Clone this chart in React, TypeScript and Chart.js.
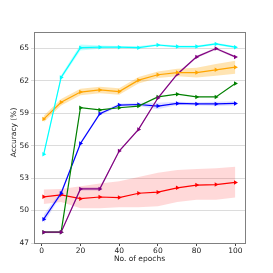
import React, { useEffect, useRef } from "react";
import { Chart, registerables } from "chart.js";

Chart.register(...registerables);

const epochs = [1, 10, 20, 30, 40, 50, 60, 70, 80, 90, 100];
const yTicks = [47, 50, 53, 56, 59, 62, 65];
const xTicks = [0, 20, 40, 60, 80, 100];
const xTitle = "No. of epochs";
const yTitle = "Accuracy (%)";

const cyanVals = [55.2, 62.3, 65.05, 65.1, 65.1, 65.05, 65.3, 65.15, 65.15, 65.4, 65.1];
const cyanUpper = [55.35, 62.5, 65.35, 65.25, 65.2, 65.2, 65.4, 65.25, 65.25, 65.5, 65.2];
const cyanLower = [55.05, 62.1, 64.8, 64.95, 65.0, 64.95, 65.2, 65.05, 65.05, 65.3, 65.0];

const orangeVals = [58.45, 60.0, 60.95, 61.15, 61.0, 62.05, 62.55, 62.75, 62.75, 63.0, 63.25];
const orangeUpper = [58.75, 60.3, 61.25, 61.45, 61.3, 62.35, 62.85, 63.1, 63.2, 63.55, 63.85];
const orangeLower = [58.15, 59.7, 60.65, 60.85, 60.7, 61.75, 62.25, 62.4, 62.3, 62.45, 62.65];

const greenVals = [48.0, 48.0, 59.5, 59.3, 59.5, 59.65, 60.5, 60.75, 60.5, 60.5, 61.75];

const blueVals = [49.2, 51.6, 56.2, 58.95, 59.75, 59.8, 59.65, 59.9, 59.85, 59.85, 59.9];
const blueUpper = [49.6, 51.8, 56.35, 59.1, 59.9, 59.95, 59.95, 60.05, 60.0, 60.05, 60.1];
const blueLower = [48.8, 51.4, 56.05, 58.8, 59.6, 59.65, 59.35, 59.75, 59.7, 59.65, 59.7];

const purpleVals = [48.0, 48.0, 52.0, 52.0, 55.5, 57.5, 60.4, 62.6, 64.2, 64.97, 64.2];
const purpleUpper = [48.1, 48.1, 52.15, 52.15, 55.6, 57.6, 60.5, 62.7, 64.3, 65.07, 64.3];
const purpleLower = [47.9, 47.9, 51.85, 51.85, 55.4, 57.4, 60.3, 62.5, 64.1, 64.87, 64.1];

const redVals = [51.27, 51.45, 51.1, 51.25, 51.2, 51.6, 51.7, 52.1, 52.35, 52.4, 52.6];
const redUpper = [51.95, 52.0, 52.25, 52.5, 52.7, 53.1, 53.5, 53.75, 53.85, 53.9, 54.05];
const redLower = [50.6, 50.8, 50.2, 50.2, 50.3, 50.3, 50.4, 50.8, 51.0, 51.0, 51.2];

const xy = (vals: number[]) => vals.map((v, i) => ({ x: epochs[i], y: v }));

const FONT = "DejaVu Sans";

const boxPlugin = {
  id: "boxPlugin",
  afterDraw(chart: any) {
    const { ctx, chartArea } = chart;
    ctx.save();
    ctx.strokeStyle = "#808080";
    ctx.lineWidth = 1;
    ctx.strokeRect(
      Math.round(chartArea.left) + 0.5,
      Math.round(chartArea.top) + 0.5,
      Math.round(chartArea.right - chartArea.left),
      Math.round(chartArea.bottom - chartArea.top)
    );
    ctx.fillStyle = "#222";
    ctx.font = `7.5px "${FONT}"`;
    ctx.textAlign = "center";
    ctx.textBaseline = "middle";
    ctx.fillText(xTitle, (chartArea.left + chartArea.right) / 2, 259);
    ctx.translate(14, (chartArea.top + chartArea.bottom) / 2 - 5);
    ctx.rotate(-Math.PI / 2);
    ctx.fillText(yTitle, 0, 0);
    ctx.restore();
  },
};

export default function App() {
  const ref = useRef<HTMLCanvasElement | null>(null);

  useEffect(() => {
    if (!ref.current) return;
    const band = (upper: number[], lower: number[], color: string, order: number) => [
      {
        data: xy(upper),
        borderWidth: 0,
        pointRadius: 0,
        backgroundColor: color,
        fill: "+1",
        order,
      },
      {
        data: xy(lower),
        borderWidth: 0,
        pointRadius: 0,
        backgroundColor: color,
        fill: false,
        order,
      },
    ];
    const line = (vals: number[], color: string, order: number) => ({
      data: xy(vals),
      borderColor: color,
      backgroundColor: color,
      borderWidth: 1.2,
      pointStyle: "triangle",
      rotation: 90,
      pointRadius: 2.6,
      pointBorderWidth: 0,
      fill: false,
      order,
    });

    const chart = new Chart(ref.current, {
      type: "line",
      data: {
        datasets: [
          ...band(cyanUpper, cyanLower, "rgba(0,255,255,0.25)", 20),
          ...band(orangeUpper, orangeLower, "rgba(255,165,0,0.3)", 20),
          ...band(blueUpper, blueLower, "rgba(0,0,255,0.12)", 20),
          ...band(purpleUpper, purpleLower, "rgba(128,0,128,0.2)", 20),
          ...band(redUpper, redLower, "rgba(255,0,0,0.15)", 20),
          line(redVals, "#ff0000", 6),
          line(blueVals, "#0000ff", 5),
          line(greenVals, "#008000", 4),
          line(purpleVals, "#800080", 3),
          line(orangeVals, "#ffa500", 2),
          line(cyanVals, "#00ffff", 1),
        ] as any,
      },
      options: {
        animation: false,
        responsive: false,
        maintainAspectRatio: false,
        layout: { padding: { top: 32, right: 28, left: 0, bottom: 0 } },
        plugins: { legend: { display: false }, tooltip: { enabled: false } },
        scales: {
          x: {
            type: "linear",
            min: -4,
            max: 105,
            afterBuildTicks: (s: any) => {
              s.ticks = xTicks.map((v) => ({ value: v }));
            },
            afterFit: (s: any) => {
              s.height = 30;
            },
            grid: {
              drawOnChartArea: false,
              drawTicks: true,
              tickLength: 3,
              color: "#444",
            },
            border: { display: false },
            ticks: {
              color: "#222",
              font: { family: FONT, size: 7.5 },
              padding: 1,
              maxRotation: 0,
            },
          },
          y: {
            type: "linear",
            min: 47,
            max: 66.5,
            afterBuildTicks: (s: any) => {
              s.ticks = yTicks.map((v) => ({ value: v }));
            },
            afterFit: (s: any) => {
              s.width = 34;
            },
            grid: {
              drawOnChartArea: true,
              drawTicks: true,
              tickLength: 3,
              color: "#dcdcdc",
              lineWidth: 1,
            },
            border: { display: false },
            ticks: {
              color: "#222",
              font: { family: FONT, size: 7.5 },
              padding: 2,
            },
          },
        },
      },
      plugins: [boxPlugin],
    });
    return () => chart.destroy();
  }, []);

  return (
    <div style={{ position: "fixed", left: 0, top: 0, width: 273, height: 273, background: "#fff" }}>
      <canvas ref={ref} width={273} height={273} style={{ width: 273, height: 273 }} />
    </div>
  );
}
